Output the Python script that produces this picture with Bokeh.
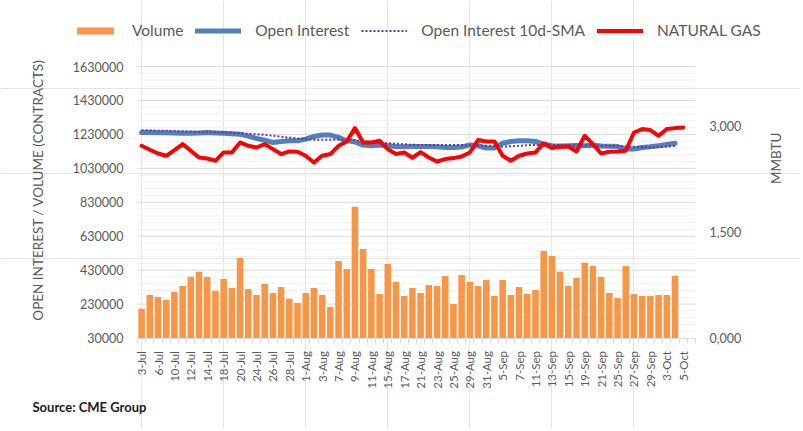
import math
from bokeh.plotting import figure
from bokeh.models import (Range1d, LinearAxis, FixedTicker, Legend, LegendItem,
                          Label, ColumnDataSource)
from bokeh.embed import file_html
from bokeh.resources import INLINE

dates = ["3-Jul", "5-Jul", "6-Jul", "7-Jul", "10-Jul", "11-Jul", "12-Jul", "13-Jul",
         "14-Jul", "17-Jul", "18-Jul", "19-Jul", "20-Jul", "21-Jul", "24-Jul", "25-Jul",
         "26-Jul", "27-Jul", "28-Jul", "31-Jul", "1-Aug", "2-Aug", "3-Aug", "4-Aug",
         "7-Aug", "8-Aug", "9-Aug", "10-Aug", "11-Aug", "14-Aug", "15-Aug", "16-Aug",
         "17-Aug", "18-Aug", "21-Aug", "22-Aug", "23-Aug", "24-Aug", "25-Aug", "28-Aug",
         "29-Aug", "30-Aug", "31-Aug", "1-Sep", "5-Sep", "6-Sep", "7-Sep", "8-Sep",
         "11-Sep", "12-Sep", "13-Sep", "14-Sep", "15-Sep", "18-Sep", "19-Sep", "20-Sep",
         "21-Sep", "22-Sep", "25-Sep", "26-Sep", "27-Sep", "28-Sep", "29-Sep", "2-Oct",
         "3-Oct", "4-Oct", "5-Oct"]

volume = [202600, 283300, 271500, 255600, 302800, 336300, 391100, 420600, 389400, 308700,
          377600, 324600, 501300, 318700, 283300, 348100, 295100, 330400, 261500, 236200,
          295100, 324600, 283300, 212600, 483600, 436500, 803500, 554300, 436500, 289200,
          465900, 361700, 277400, 324600, 295100, 342200, 336300, 395200, 230300, 401100,
          361700, 336300, 371700, 277400, 371700, 283300, 330400, 289200, 312800, 542500,
          513100, 420600, 336300, 383500, 473600, 454200, 389400, 295100, 265600, 454200,
          289200, 277400, 277400, 283300, 283300, 395200]

open_interest = [1241000, 1241000, 1240000, 1240000, 1238000, 1237000, 1237000, 1238000,
                 1241000, 1238000, 1236000, 1234000, 1231000, 1220000, 1206000, 1196000,
                 1182000, 1188000, 1192000, 1192000, 1202000, 1218000, 1226000, 1226000,
                 1212000, 1192000, 1186000, 1167000, 1163000, 1167000, 1163000, 1159000,
                 1157000, 1159000, 1159000, 1158000, 1157000, 1153000, 1153000, 1155000,
                 1168000, 1163000, 1149000, 1150000, 1178000, 1188000, 1192000, 1192000,
                 1188000, 1173000, 1163000, 1162000, 1163000, 1165000, 1163000, 1166000,
                 1162000, 1160000, 1158000, 1144000, 1144000, 1153000, 1157000, 1163000,
                 1170000, 1178000]

oi_sma10 = [1255000, 1254000, 1252000, 1251000, 1249000, 1248000, 1247000, 1245000,
            1244000, 1242000, 1240000, 1239000, 1237000, 1234000, 1231000, 1227000,
            1222000, 1216000, 1211000, 1206000, 1201000, 1199000, 1198000, 1198000,
            1198000, 1197000, 1196000, 1190000, 1183000, 1180000, 1178000, 1175000,
            1172000, 1169000, 1167000, 1168000, 1168000, 1168000, 1167000, 1167000,
            1166000, 1164000, 1162000, 1159000, 1157000, 1160000, 1163000, 1166000,
            1168000, 1168000, 1168000, 1167000, 1167000, 1166000, 1166000, 1165000,
            1163000, 1162000, 1161000, 1159000, 1157000, 1155000, 1153000, 1155000,
            1157000, 1163000]

natural_gas = [2.717, 2.661, 2.608, 2.576, 2.656, 2.741, 2.647, 2.552, 2.538, 2.505,
               2.623, 2.623, 2.764, 2.717, 2.693, 2.741, 2.670, 2.600, 2.637, 2.632,
               2.576, 2.481, 2.576, 2.600, 2.717, 2.778, 2.967, 2.764, 2.764, 2.788,
               2.670, 2.600, 2.623, 2.548, 2.628, 2.552, 2.495, 2.529, 2.543, 2.566,
               2.623, 2.798, 2.778, 2.778, 2.576, 2.505, 2.576, 2.608, 2.623, 2.750,
               2.685, 2.703, 2.707, 2.637, 2.859, 2.741, 2.608, 2.632, 2.637, 2.647,
               2.905, 2.953, 2.939, 2.859, 2.953, 2.967, 2.976]

left_ticks = [30000, 230000, 430000, 630000, 830000, 1030000, 1230000, 1430000, 1630000]
left_tick_labels = ["30000", "230000", "430000", "630000", "830000", "1030000",
                    "1230000", "1430000", "1630000"]
left_minor_step = 40000
right_ticks = [0.0, 1.5, 3.0]
right_tick_labels = ["0,000", "1,500", "3,000"]

FONT = "Lato"
GREY = "#595959"
C_VOL = "#F79646"
C_OI = "#4F81BD"
C_SMA = "#7030A0"
C_NG = "#FF0000"

# ---- layout constants (pixels of the canvas) ----
W, H = 800, 428
FL, FR, FT, FB = 137.0, 695.0, 66.0, 337.5      # plotting area inside the canvas
X0, X1 = -0.5, len(dates) + 0.5                 # one spare category at the end
Y0, Y1 = left_ticks[0], left_ticks[-1]
R1 = 3.838                                      # top of the MMBTU scale

ppx = (FR - FL) / (X1 - X0)
ppy = (FB - FT) / (Y1 - Y0)
ppr = (FB - FT) / R1

p = figure(width=W, height=H, output_backend="svg", toolbar_location=None,
           x_axis_location=None, y_axis_location=None, title_location=None,
           x_range=Range1d(X0 - FL / ppx, X1 + (W - FR) / ppx),
           y_range=Range1d(Y0 - (H - FB) / ppy, Y1 + FT / ppy),
           min_border=0, min_border_left=0, min_border_right=0,
           min_border_top=0, min_border_bottom=0)
p.outline_line_color = None
p.extra_y_ranges = {"ng": Range1d(0 - (H - FB) / ppr, R1 + FT / ppr)}

# ---- gridlines (major + minor), limited to the plotting area ----
minor_vals = [v for v in range(Y0 + left_minor_step, Y1, left_minor_step)
              if v not in left_ticks]
p.segment(x0=X0, x1=X1, y0=minor_vals, y1=minor_vals, line_color="#f0f0f0",
          line_width=1)
p.segment(x0=X0, x1=X1, y0=left_ticks[1:], y1=left_ticks[1:], line_color="#d9d9d9",
          line_width=1)

# ---- left axis ----
yax = LinearAxis(fixed_location=X0, bounds=(Y0, 1777000),
                 ticker=FixedTicker(ticks=left_ticks))
yax.major_label_overrides = {t: s for t, s in zip(left_ticks, left_tick_labels)}
yax.axis_line_color = None
yax.major_tick_line_color = None
yax.minor_tick_line_color = None
yax.major_tick_out = 0
yax.major_label_standoff = 14
yax.major_label_text_font = FONT
yax.major_label_text_font_size = "12.5px"
yax.major_label_text_color = GREY
yax.axis_label = "OPEN INTEREST / VOLUME (CONTRACTS)"
yax.axis_label_text_font = FONT
yax.axis_label_text_font_size = "13.5px"
yax.axis_label_text_font_style = "normal"
yax.axis_label_text_color = GREY
yax.axis_label_standoff = 24
p.add_layout(yax, "left")

# ---- bottom axis ----
x_ticks = list(range(0, len(dates), 2))
xax = LinearAxis(fixed_location=Y0, bounds=(X0, X1),
                 ticker=FixedTicker(ticks=x_ticks,
                                    minor_ticks=[i - 0.5 for i in range(len(dates) + 2)]))
xax.major_label_overrides = {i: dates[i] for i in x_ticks}
xax.major_label_orientation = math.pi / 2
xax.axis_line_color = "#d9d9d9"
xax.major_tick_line_color = None
xax.major_tick_out = 0
xax.major_tick_in = 0
xax.minor_tick_line_color = "#d9d9d9"
xax.minor_tick_out = 5
xax.minor_tick_in = 0
xax.major_label_standoff = 8
xax.major_label_text_font = FONT
xax.major_label_text_font_size = "11.5px"
xax.major_label_text_color = GREY
p.add_layout(xax, "below")

# ---- right axis ----
rax = LinearAxis(y_range_name="ng", fixed_location=X1, bounds=(0, 4.36),
                 ticker=FixedTicker(ticks=right_ticks))
rax.major_label_overrides = {t: s for t, s in zip(right_ticks, right_tick_labels)}
rax.axis_line_color = None
rax.major_tick_line_color = None
rax.minor_tick_line_color = None
rax.major_tick_out = 0
rax.major_label_standoff = 14
rax.major_label_text_font = FONT
rax.major_label_text_font_size = "12.5px"
rax.major_label_text_color = GREY
rax.axis_label = "MMBTU"
rax.axis_label_orientation = math.pi / 2
rax.axis_label_text_font = FONT
rax.axis_label_text_font_size = "13.5px"
rax.axis_label_text_font_style = "normal"
rax.axis_label_text_color = GREY
rax.axis_label_standoff = 32
p.add_layout(rax, "right")

# ---- data ----
vsrc = ColumnDataSource(dict(x=list(range(len(volume))), top=volume))
r_vol = p.vbar(x="x", top="top", bottom=Y0, width=0.8, source=vsrc,
               fill_color=C_VOL, line_color=None)
r_oi = p.line(list(range(len(open_interest))), open_interest, line_color=C_OI,
              line_width=5, line_join="round", line_cap="round")
r_sma = p.line(list(range(len(oi_sma10))), oi_sma10, line_color=C_SMA,
               line_width=2, line_dash="2 2")
r_ng = p.line(list(range(len(natural_gas))), natural_gas, y_range_name="ng",
              line_color=C_NG, line_width=4, line_join="round", line_cap="round")

legend = Legend(items=[LegendItem(label="Volume", renderers=[r_vol]),
                       LegendItem(label="Open Interest", renderers=[r_oi]),
                       LegendItem(label="Open Interest 10d-SMA", renderers=[r_sma]),
                       LegendItem(label="NATURAL GAS", renderers=[r_ng])],
                orientation="horizontal", location=(72, H - 39),
                padding=0, margin=0, spacing=12, label_standoff=14,
                glyph_width=46, glyph_height=9,
                border_line_color=None, background_fill_alpha=0,
                label_text_font=FONT, label_text_font_size="15.5px",
                label_text_color=GREY)
p.add_layout(legend)

p.add_layout(Label(x=32, y=H - 406, x_units="screen", y_units="screen",
                   text="Source: CME Group", text_font=FONT, text_font_size="13px",
                   text_font_style="bold", text_color="#1a1a1a",
                   text_baseline="middle"))

open("out.html", "w").write(file_html(p, INLINE))
